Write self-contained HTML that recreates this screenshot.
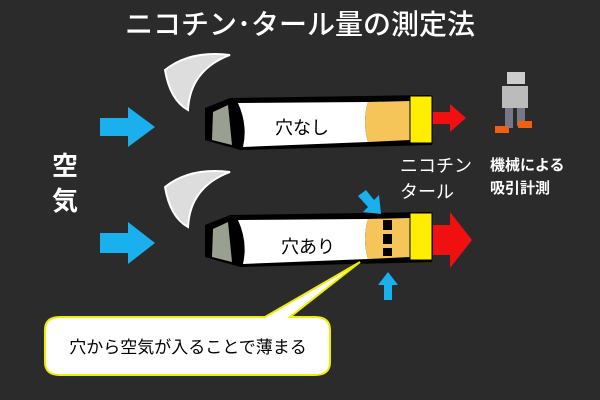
<!DOCTYPE html>
<html><head><meta charset="utf-8"><style>
body{margin:0;background:#2b2b2b;width:600px;height:400px;overflow:hidden;font-family:"Liberation Sans","Noto Sans CJK JP",sans-serif}
</style></head><body>
<svg width="600" height="400" xmlns="http://www.w3.org/2000/svg" style="position:absolute;left:0;top:0">
<rect width="600" height="400" fill="#2b2b2b"/>
<text x="300" y="34" text-anchor="middle" fill="#fff" font-size="28" font-weight="500" font-family="Noto Sans CJK JP,sans-serif">ニコチン･タール量の測定法</text>
<text x="52" y="175" fill="#fff" font-size="26" font-weight="bold" font-family="Noto Sans CJK JP,sans-serif">空</text>
<text x="52" y="210" fill="#fff" font-size="26" font-weight="bold" font-family="Noto Sans CJK JP,sans-serif">気</text>
<polygon points="100,118 128,118 128,107 155,127 128,147 128,136 100,136" fill="#1ab0ee"/>
<polygon points="100,233 128,233 128,222 155,243 128,264 128,253 100,253" fill="#1ab0ee"/>
<g id="c1">
<path d="M165,70 Q190,50 230,55 Q190,70 188,110 Q170,100 165,70Z" fill="#ddd" stroke="#fff" stroke-width="2"/>
<polygon points="205,108 230,98 430,95 432,145 240,150 205,140" fill="#000"/>
<path d="M238,103 L368,102 Q362,122 368,142 L243,147 Q248,125 238,103Z" fill="#fff"/>
<path d="M368,102 L410,101 L410,140 L368,142 Q362,122 368,102Z" fill="#f5c55a"/>
<rect x="410" y="96" width="22" height="47" fill="#ffee00" stroke="#000"/>
<polygon points="213,112 228,105 232,145 212,140" fill="#99a090"/>
</g>
<text x="302" y="134" text-anchor="middle" font-size="18" fill="#000" font-family="Noto Sans CJK JP,sans-serif">穴なし</text>
<polygon points="433,112 450,112 450,104 466,118 450,132 450,124 433,124" fill="#f01010"/>
<use href="#c1" transform="translate(0,117)"/>
<rect x="383" y="220" width="9" height="10" fill="#000"/>
<rect x="383" y="234" width="9" height="10" fill="#000"/>
<rect x="383" y="248" width="9" height="8" fill="#000"/>
<text x="308" y="253" text-anchor="middle" font-size="18" fill="#000" font-family="Noto Sans CJK JP,sans-serif">穴あり</text>
<polygon points="433,225 450,225 450,212 472,240 450,268 450,255 433,255" fill="#f01010"/>
<polygon points="358,196 366,190 374,200 379,195 381,214 363,212 368,207" fill="#1ab0ee"/>
<polygon points="384,300 384,285 378,285 388,272 398,285 392,285 392,300" fill="#1ab0ee"/>
<text x="400" y="172" fill="#fff" font-size="18" font-family="Noto Sans CJK JP,sans-serif">ニコチン</text>
<text x="400" y="198" fill="#fff" font-size="18" font-family="Noto Sans CJK JP,sans-serif">タール</text>
<text x="490" y="170" fill="#fff" font-size="15" font-weight="bold" font-family="Noto Sans CJK JP,sans-serif">機械による</text>
<text x="490" y="193" fill="#fff" font-size="15" font-weight="bold" font-family="Noto Sans CJK JP,sans-serif">吸引計測</text>
<rect x="507" y="72" width="18" height="12" fill="#ccc"/>
<rect x="502" y="86" width="26" height="22" fill="#bbb"/>
<rect x="505" y="108" width="8" height="20" fill="#778"/>
<rect x="517" y="108" width="8" height="18" fill="#778"/>
<rect x="495" y="126" width="14" height="7" fill="#f06010"/>
<rect x="518" y="121" width="14" height="7" fill="#f06010"/>
<path d="M60,317 L265,317 L360,262 L290,317 L315,317 Q330,317 330,330 L330,362 Q330,375 315,375 L60,375 Q45,375 45,362 L45,330 Q45,317 60,317Z" fill="#fff" stroke="#ee0" stroke-width="2"/>
<text x="188" y="353" text-anchor="middle" font-size="17" fill="#000" font-family="Noto Sans CJK JP,sans-serif">穴から空気が入ることで薄まる</text>
</svg>
</body></html>
